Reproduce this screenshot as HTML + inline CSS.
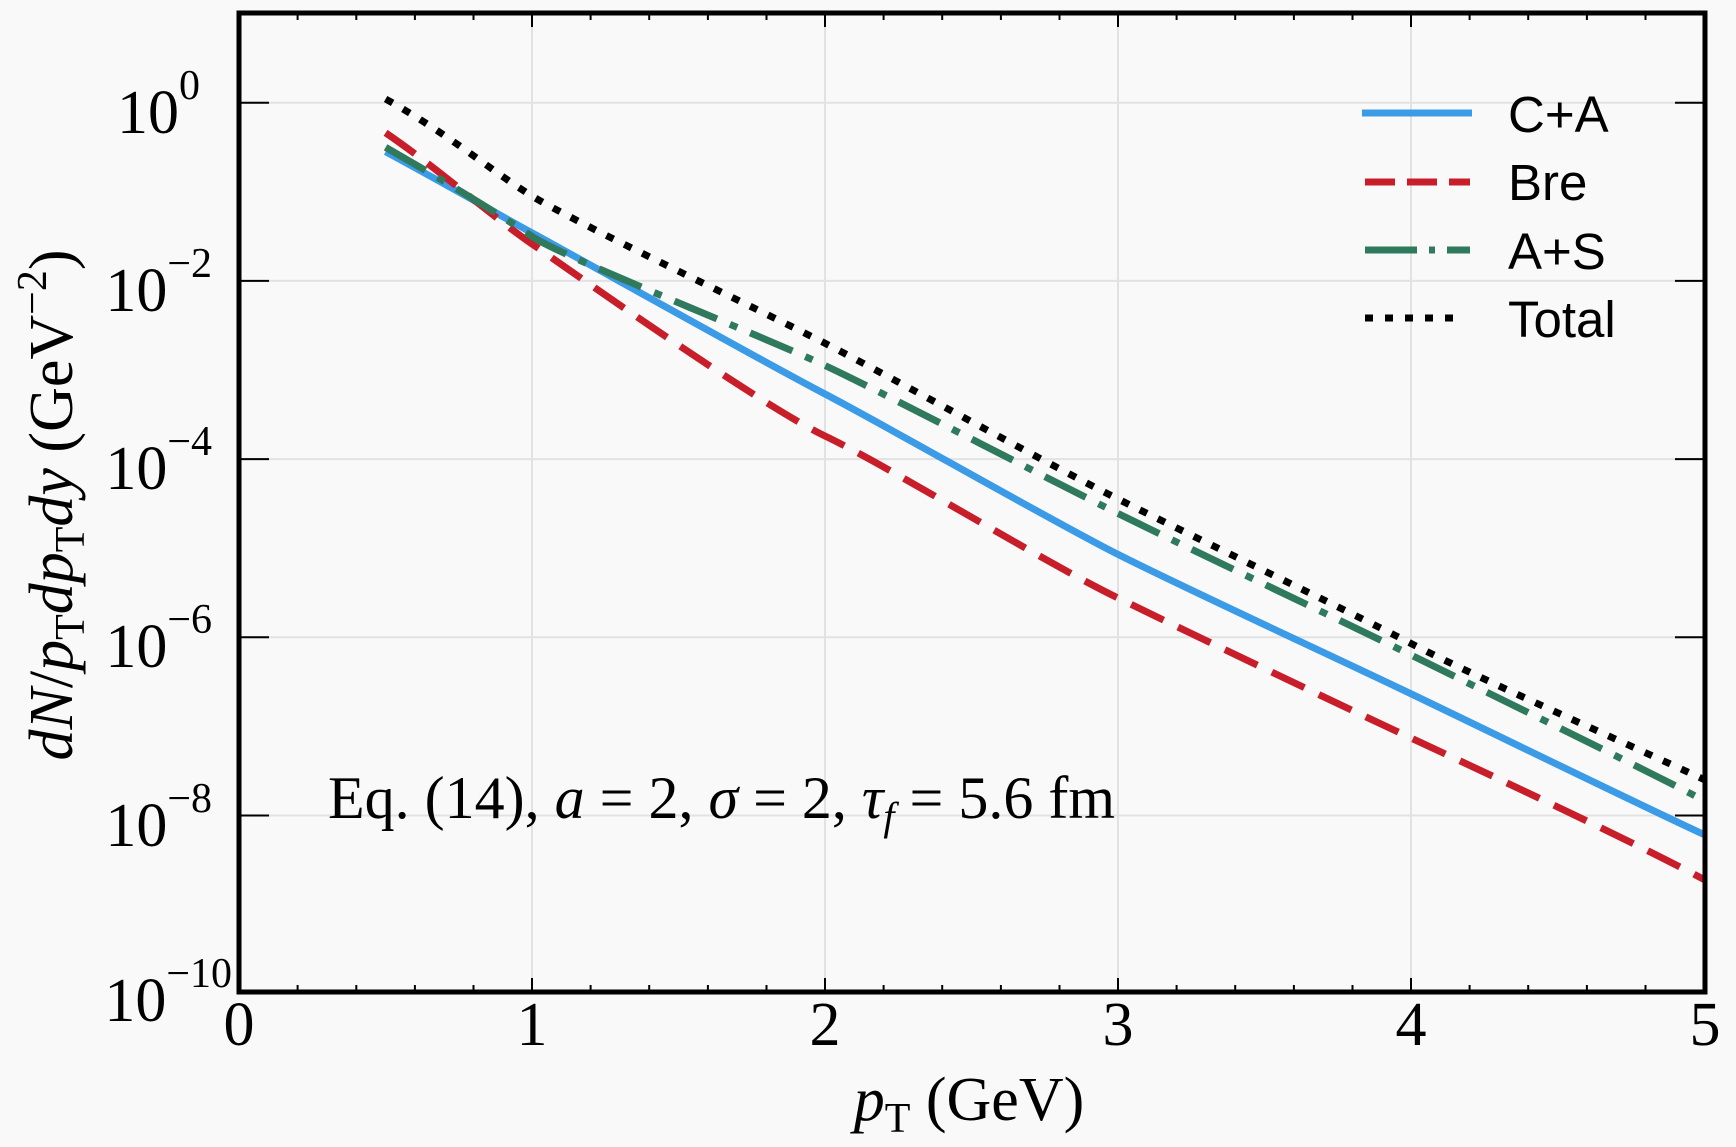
<!DOCTYPE html>
<html><head><meta charset="utf-8"><style>
html,body{margin:0;padding:0;background:#f9f9f9;}
svg{display:block;}
text{font-family:"Liberation Serif",serif;fill:#000;}
text.sans{font-family:"Liberation Sans",sans-serif;}
</style></head><body>
<svg width="1736" height="1147" viewBox="0 0 1736 1147" xmlns="http://www.w3.org/2000/svg">
<rect width="1736" height="1147" fill="#f9f9f9"/>
<g stroke="#e2e2e2" stroke-width="2">
<line x1="532" y1="13" x2="532" y2="992"/>
<line x1="825" y1="13" x2="825" y2="992"/>
<line x1="1118" y1="13" x2="1118" y2="992"/>
<line x1="1411" y1="13" x2="1411" y2="992"/>
<line x1="239" y1="102.7" x2="1705" y2="102.7"/>
<line x1="239" y1="280.9" x2="1705" y2="280.9"/>
<line x1="239" y1="459.1" x2="1705" y2="459.1"/>
<line x1="239" y1="637.3" x2="1705" y2="637.3"/>
<line x1="239" y1="815.5" x2="1705" y2="815.5"/>
</g>
<g stroke="#000" stroke-width="2">
<path d="M532 992v-14M825 992v-14M1118 992v-14M1411 992v-14M532 13v14M825 13v14M1118 13v14M1411 13v14"/>
<path d="M297.6 992v-7M356.3 992v-7M414.9 992v-7M473.5 992v-7M590.6 992v-7M649.2 992v-7M707.9 992v-7M766.5 992v-7M883.6 992v-7M942.2 992v-7M1000.9 992v-7M1059.5 992v-7M1176.6 992v-7M1235.2 992v-7M1293.9 992v-7M1352.5 992v-7M1469.6 992v-7M1528.2 992v-7M1586.9 992v-7M1645.5 992v-7
M297.6 13v7M356.3 13v7M414.9 13v7M473.5 13v7M590.6 13v7M649.2 13v7M707.9 13v7M766.5 13v7M883.6 13v7M942.2 13v7M1000.9 13v7M1059.5 13v7M1176.6 13v7M1235.2 13v7M1293.9 13v7M1352.5 13v7M1469.6 13v7M1528.2 13v7M1586.9 13v7M1645.5 13v7"/>
<path d="M239 102.7h30M239 280.9h30M239 459.1h30M239 637.3h30M239 815.5h30M1705 102.7h-30M1705 280.9h-30M1705 459.1h-30M1705 637.3h-30M1705 815.5h-30"/>
</g>
<clipPath id="c"><rect x="239" y="13" width="1466" height="979"/></clipPath>
<g fill="none" stroke-width="7" clip-path="url(#c)" stroke-linejoin="round">
<path stroke="#3b9be6" d="M385.6,151.7 C460,192 490,210 532,232.8 S760,360 825,394 S1050,520 1118,554.4 S1330,655 1411,693.8 S1640,805 1705,835"/>
<path stroke="#c81e2a" stroke-dasharray="36,16" d="M385.6,132.8 C440,170 490,215 532,244 S760,405 825,436 S1040,560 1118,598 S1340,705 1411,738 S1640,845 1705,880"/>
<path stroke="#2f7a5c" stroke-dasharray="46,14,8,14" d="M385.6,147.3 C460,190 500,215 532,236.4 S760,335 825,365.5 S1040,475 1118,513.5 S1340,620 1411,655 S1630,762 1705,801"/>
<path stroke="#000" stroke-dasharray="8,12" d="M385.6,99 C450,135 490,170 532,196 S760,310 825,343.3 S1040,460 1118,499 S1340,607 1411,643.5 S1630,745 1705,780"/>
</g>
<rect x="239" y="13" width="1466" height="979" fill="none" stroke="#000" stroke-width="5"/>
<g font-size="62" text-anchor="middle">
<text x="239" y="1045">0</text><text x="532" y="1045">1</text><text x="825" y="1045">2</text>
<text x="1118" y="1045">3</text><text x="1411" y="1045">4</text><text x="1705" y="1045">5</text>
</g>
<g font-size="62" text-anchor="end">
<text x="200" y="133">10<tspan font-size="42" dy="-34">0</tspan></text>
<text x="212" y="311">10<tspan font-size="42" dy="-34">−2</tspan></text>
<text x="212" y="489">10<tspan font-size="42" dy="-34">−4</tspan></text>
<text x="212" y="667">10<tspan font-size="42" dy="-34">−6</tspan></text>
<text x="212" y="846">10<tspan font-size="42" dy="-34">−8</tspan></text>
<text x="232" y="1021">10<tspan font-size="42" dy="-34">−10</tspan></text>
</g>
<text x="969" y="1120" font-size="62" text-anchor="middle"><tspan font-style="italic">p</tspan><tspan font-size="42" dy="12">T</tspan><tspan dy="-12"> (GeV)</tspan></text>
<text transform="translate(72,505) rotate(-90)" font-size="62" text-anchor="middle"><tspan font-style="italic">dN</tspan>/<tspan font-style="italic">p</tspan><tspan font-size="42" dy="12">T</tspan><tspan dy="-12" font-style="italic">dp</tspan><tspan font-size="42" dy="12">T</tspan><tspan dy="-12" font-style="italic">dy</tspan> (GeV<tspan font-size="42" dy="-26">−2</tspan><tspan dy="26">)</tspan></text>
<text x="328" y="818" font-size="60">Eq. (14), <tspan font-style="italic">a</tspan> = 2, <tspan font-style="italic">σ</tspan> = 2, <tspan font-style="italic">τ</tspan><tspan font-size="40" dy="12" font-style="italic">f</tspan><tspan dy="-12"> = 5.6 fm</tspan></text>
<g stroke-width="7">
<line x1="1362" y1="113" x2="1472" y2="113" stroke="#3b9be6"/>
<line x1="1365" y1="182" x2="1470" y2="182" stroke="#c81e2a" stroke-dasharray="30,12"/>
<line x1="1365" y1="250" x2="1470" y2="250" stroke="#2f7a5c" stroke-dasharray="52,12,6,12"/>
<line x1="1365" y1="318" x2="1462" y2="318" stroke="#000" stroke-dasharray="8,12"/>
</g>
<g font-size="51">
<text class="sans" x="1508" y="132">C+A</text>
<text class="sans" x="1508" y="200">Bre</text>
<text class="sans" x="1508" y="269">A+S</text>
<text class="sans" x="1508" y="337">Total</text>
</g>
</svg>
</body></html>
